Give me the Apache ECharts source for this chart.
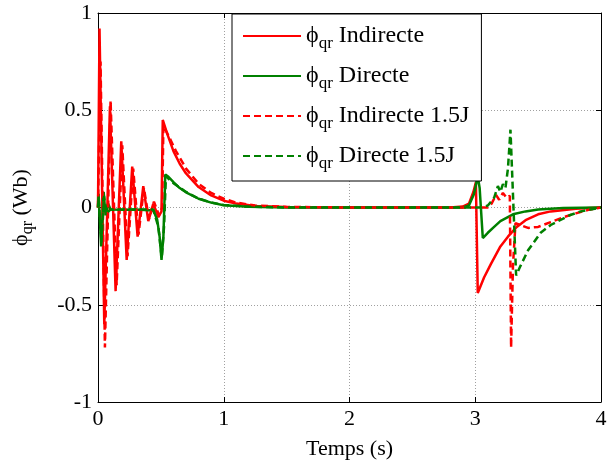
<!DOCTYPE html>
<html>
<head>
<meta charset="utf-8">
<script src="https://cdn.jsdelivr.net/npm/echarts@6/dist/echarts.min.js"></script>
<style>
html,body{margin:0;padding:0;background:#fff;}
#chart{width:616px;height:465px;}
</style>
</head>
<body>
<div id="chart"></div>
<script>
const seriesNames = ['Indirecte', 'Directe', 'Indirecte 1.5J', 'Directe 1.5J'];
const xTicks = [0, 1, 2, 3, 4];
const yTicks = [-1, -0.5, 0, 0.5, 1];

const indirecte = [
  [0,0],[0.012,0.92],[0.05,-0.6],[0.095,0.52],[0.14,-0.43],[0.185,0.34],[0.228,-0.27],
  [0.272,0.21],[0.315,-0.15],[0.36,0.11],[0.4,-0.07],[0.44,0.02],[0.48,-0.05],[0.505,-0.02],
  [0.515,0.45],[0.55,0.38],[0.6,0.29],[0.65,0.225],[0.7,0.175],[0.8,0.105],[0.9,0.062],
  [1.0,0.035],[1.1,0.02],[1.25,0.008],[1.5,0.002],[1.99,0],[2.0,0.008],[2.01,0],[2.8,0],[2.9,0.005],
  [2.95,0.02],[2.985,0.08],[3.005,0.13],[3.02,-0.44],[3.07,-0.36],[3.125,-0.29],[3.2,-0.2],
  [3.26,-0.15],[3.33,-0.1],[3.4,-0.065],[3.5,-0.035],[3.6,-0.02],[3.8,-0.006],[4,0]
];
const directe = [
  [0,0],[0.005,0.07],[0.025,-0.2],[0.045,0.08],[0.06,-0.04],[0.08,0.02],[0.1,-0.01],
  [0.2,-0.012],[0.3,-0.01],[0.44,-0.015],[0.47,-0.06],[0.49,-0.15],[0.505,-0.27],[0.52,-0.15],
  [0.535,0.17],[0.56,0.158],[0.6,0.13],[0.65,0.1],[0.7,0.078],[0.8,0.045],[0.9,0.025],
  [1.0,0.012],[1.2,0.004],[1.5,0],[2.9,0],[2.95,0.01],[2.99,0.07],[3.02,0.16],[3.035,0.1],
  [3.06,-0.157],[3.1,-0.13],[3.15,-0.1],[3.2,-0.07],[3.3,-0.035],[3.4,-0.02],[3.5,-0.01],
  [3.7,-0.003],[4,0]
];
const indirecte15 = [
  [0,0],[0.02,0.75],[0.055,-0.72],[0.1,0.55],[0.148,-0.4],[0.193,0.32],[0.235,-0.25],
  [0.28,0.2],[0.322,-0.14],[0.365,0.1],[0.405,-0.06],[0.445,0.03],[0.485,-0.04],[0.51,0.0],
  [0.52,0.42],[0.56,0.37],[0.62,0.29],[0.7,0.2],[0.8,0.122],[0.9,0.075],[1.0,0.045],
  [1.1,0.025],[1.25,0.01],[1.5,0.003],[2.0,0],[3.1,0],[3.13,0.02],[3.165,0.065],[3.19,0.04],
  [3.22,0.075],[3.25,0.05],[3.275,0.06],[3.285,-0.72],[3.3,-0.3],[3.32,-0.08],[3.36,-0.09],
  [3.42,-0.105],[3.5,-0.1],[3.6,-0.075],[3.7,-0.05],[3.8,-0.03],[3.9,-0.012],[4,0]
];
const directe15 = [
  [0,0],[0.005,0.05],[0.028,-0.18],[0.048,0.06],[0.065,-0.03],[0.1,-0.01],[0.44,-0.01],
  [0.48,-0.1],[0.507,-0.26],[0.525,-0.1],[0.54,0.16],[0.6,0.125],[0.7,0.08],[0.8,0.046],
  [0.9,0.026],[1.0,0.013],[1.2,0.004],[1.5,0],[3.05,0],[3.1,0.01],[3.15,0.05],[3.18,0.11],
  [3.2,0.08],[3.22,0.12],[3.24,0.1],[3.26,0.2],[3.28,0.4],[3.29,0.4],[3.31,-0.1],
  [3.325,-0.35],[3.36,-0.3],[3.42,-0.22],[3.52,-0.13],[3.6,-0.09],[3.66,-0.07],[3.75,-0.04],
  [3.84,-0.02],[4,0]
];

const RED = '#ff0000', GREEN = '#008000';
const FONT = "'Liberation Serif', 'Times New Roman', serif";
const FS = 22;
const LFS = 24;
const rich = {
  phi: {fontFamily: FONT, fontSize: FS, color: '#000'},
  sub: {fontFamily: FONT, fontSize: 16, color: '#000', padding: [14, 0, 0, 0]},
  txt: {fontFamily: FONT, fontSize: FS, color: '#000'}
};
const lrich = {
  phi: {fontFamily: FONT, fontSize: LFS, color: '#000'},
  sub: {fontFamily: FONT, fontSize: 17, color: '#000', padding: [15, 0, 0, 0]},
  txt: {fontFamily: FONT, fontSize: LFS, color: '#000'}
};

function mk(name, data, color, dashed) {
  return {
    name: name, type: 'line', data: data, showSymbol: false, symbol: 'none',
    xAxisIndex: 0, yAxisIndex: 0,
    lineStyle: {color: color, width: 2.5, type: dashed ? [7, 4] : 'solid'},
    itemStyle: {color: color}, animation: false
  };
}

const chart = echarts.init(document.getElementById('chart'));
chart.setOption({
  backgroundColor: '#fff',
  animation: false,
  grid: {left: 98, right: 15, top: 13, bottom: 62, containLabel: false},
  legend: {
    orient: 'vertical', left: 232, top: 14,
    backgroundColor: '#fff', borderColor: '#000', borderWidth: 1,
    padding: [10, 12, 9, 10], itemGap: 12, itemWidth: 58, itemHeight: 24,
    itemStyle: {opacity: 0},
    data: seriesNames,
    formatter: n => '{phi|ϕ}{sub|qr}{txt| ' + n + '}',
    textStyle: {rich: lrich, fontFamily: FONT, fontSize: LFS}
  },
  xAxis: [{
    type: 'value', min: 0, max: 4, interval: 1, position: 'bottom',
    name: 'Temps (s)', nameLocation: 'middle', nameGap: 36,
    nameTextStyle: {fontFamily: FONT, fontSize: FS, color: '#000'},
    axisLine: {show: true, onZero: false, lineStyle: {color: '#000', width: 1}},
    axisTick: {show: true, inside: true, length: 5, lineStyle: {color: '#000'}},
    axisLabel: {fontFamily: FONT, fontSize: FS, color: '#000', margin: 6},
    splitLine: {show: true, lineStyle: {color: '#a0a0a0', type: [1, 2], width: 1}}
  }, {
    type: 'value', min: 0, max: 4, interval: 1, position: 'top',
    axisLine: {show: true, onZero: false, lineStyle: {color: '#000', width: 1}},
    axisTick: {show: true, inside: true, length: 5, lineStyle: {color: '#000'}},
    axisLabel: {show: false}, splitLine: {show: false}
  }],
  yAxis: [{
    type: 'value', min: -1, max: 1, interval: 0.5, position: 'left',
    name: '{phi|ϕ}{sub|qr}{txt| (Wb)}', nameLocation: 'middle', nameGap: 62, nameRotate: 90,
    nameTextStyle: {rich: rich, fontFamily: FONT, fontSize: FS, color: '#000'},
    axisLine: {show: true, onZero: false, lineStyle: {color: '#000', width: 1}},
    axisTick: {show: true, inside: true, length: 5, lineStyle: {color: '#000'}},
    axisLabel: {fontFamily: FONT, fontSize: FS, color: '#000', margin: 6},
    splitLine: {show: true, lineStyle: {color: '#a0a0a0', type: [1, 2], width: 1}}
  }, {
    type: 'value', min: -1, max: 1, interval: 0.5, position: 'right',
    axisLine: {show: true, onZero: false, lineStyle: {color: '#000', width: 1}},
    axisTick: {show: true, inside: true, length: 5, lineStyle: {color: '#000'}},
    axisLabel: {show: false}, splitLine: {show: false}
  }],
  series: [
    mk(seriesNames[0], indirecte, RED, false),
    mk(seriesNames[1], directe, GREEN, false),
    mk(seriesNames[2], indirecte15, RED, true),
    mk(seriesNames[3], directe15, GREEN, true)
  ]
});
</script>
</body>
</html>
